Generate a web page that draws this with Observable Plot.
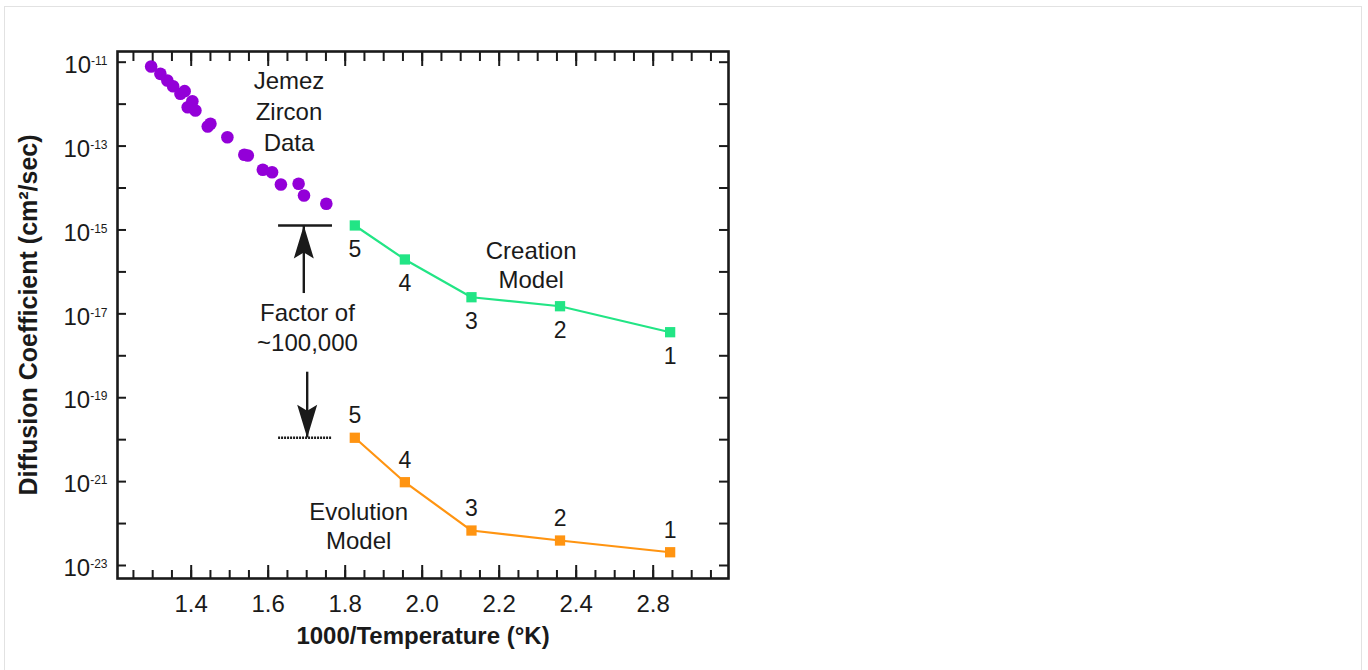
<!DOCTYPE html>
<html>
<head>
<meta charset="utf-8">
<script src="https://cdn.jsdelivr.net/npm/d3@7"></script>
<script src="https://cdn.jsdelivr.net/npm/@observablehq/plot@0.6"></script>
<style>
html, body { margin: 0; padding: 0; background: #fff; }
#wrap { position: relative; width: 1368px; height: 670px; overflow: hidden; }
#border { position: absolute; left: 4px; top: 6px; width: 1356px; height: 720px; border: 1px solid #e2e2e2; }
#chart { position: absolute; left: 0; top: 0; }
</style>
</head>
<body>
<div id="wrap"><div id="border"></div><div id="chart"></div></div>
<script>
// ---------------- data ----------------
const zirconX = [1.296, 1.320, 1.338, 1.353, 1.372, 1.383, 1.403, 1.391, 1.411, 1.443,
                 1.450, 1.494, 1.538, 1.547, 1.586, 1.610, 1.633, 1.679, 1.693, 1.751];
const zirconD = [7.89e-12, 5.28e-12, 3.66e-12, 2.68e-12, 1.77e-12, 2.04e-12, 1.17e-12, 8.45e-13, 7.05e-13, 2.93e-13,
                 3.40e-13, 1.63e-13, 6.19e-14, 5.96e-14, 2.72e-14, 2.38e-14, 1.21e-14, 1.26e-14, 6.64e-15, 4.21e-15];

const modelX = [1.825, 1.955, 2.128, 2.358, 2.644];
const stageLabels = ["5", "4", "3", "2", "1"];
const creationD = [1.28e-15, 1.98e-16, 2.49e-17, 1.52e-17, 3.65e-18];
const evolutionD = [1.11e-20, 9.68e-22, 6.82e-23, 3.94e-23, 2.07e-23];

const xLabelTicks = [1.4, 1.6, 1.8, 2.0, 2.2, 2.4, 2.6];
const xTickLabels = ["1.4", "1.6", "1.8", "2.0", "2.2", "2.4", "2.8"];
const xMinorTicks = d3.range(125, 280, 5).map(v => v / 100);
const yDecadeTicks = [1e-23, 1e-22, 1e-21, 1e-20, 1e-19, 1e-18, 1e-17, 1e-16, 1e-15, 1e-14, 1e-13, 1e-12, 1e-11];
const yLabelTicks = [1e-23, 1e-21, 1e-19, 1e-17, 1e-15, 1e-13, 1e-11];

const xTitle = "1000/Temperature (°K)";
const yTitle = "Diffusion Coefficient (cm²/sec)";

const notes = [
  {text: "Creation\nModel", x: 2.283, y: 6.5e-16},
  {text: "Evolution\nModel", x: 1.835, y: 3.9e-22},
  {text: "Factor of\n~100,000", x: 1.702, y: 2.08e-17}
];
const zirconNote = [{text: "Jemez\nZircon\nData", x: 1.654, y: 7.76e-12}];

const factorBarTop = [{x1: 1.627, x2: 1.767, y: creationD[0]}];
const factorBarBottom = [{x1: 1.627, x2: 1.767, y: evolutionD[0]}];
const arrowShafts = [
  {x: 1.6925, y1: creationD[0], y2: 3.05e-17},
  {x: 1.7013, y1: 4.06e-19, y2: evolutionD[0]}
];
const arrowHeads = [
  {x: 1.6925, y: creationD[0], rotate: 0},
  {x: 1.7013, y: evolutionD[0], rotate: 180}
];

// ---------------- tables ----------------
const zircon = zirconX.map((x, i) => ({x, y: zirconD[i]}));
const creation = modelX.map((x, i) => ({x, y: creationD[i], label: stageLabels[i]}));
const evolution = modelX.map((x, i) => ({x, y: evolutionD[i], label: stageLabels[i]}));

// ---------------- styles ----------------
const purple = "#9300d8";
const green = "#22e585";
const orange = "#ff9411";
const ink = "#1a1a1a";
const W = 1368, H = 670, mT = 51, mL = 117, mR = 640, mB = 92;
const innerH = H - mT - mB, innerW = W - mL - mR;

const headSymbol = {
  draw(ctx) {
    ctx.moveTo(0, 0);
    ctx.lineTo(10, 33);
    ctx.lineTo(0, 27);
    ctx.lineTo(-10, 33);
    ctx.closePath();
  }
};

const plot = Plot.plot({
  width: W,
  height: H,
  marginTop: mT,
  marginLeft: mL,
  marginRight: mR,
  marginBottom: mB,
  style: {fontFamily: "'Liberation Sans', Arial, sans-serif", color: ink, background: "transparent"},
  x: {type: "linear", domain: [1.2086, 2.7956], label: null},
  y: {type: "log", domain: [Math.pow(10, -23.31), Math.pow(10, -10.745)], label: null},
  marks: [
    // inward ticks
    Plot.tickX(xMinorTicks, {x: d => d, insetTop: innerH - 8, stroke: ink, strokeWidth: 2}),
    Plot.tickX(xMinorTicks, {x: d => d, insetBottom: innerH - 10, stroke: ink, strokeWidth: 2}),
    Plot.tickX(xLabelTicks, {x: d => d, insetTop: innerH - 13, stroke: ink, strokeWidth: 2}),
    Plot.tickX(xLabelTicks, {x: d => d, insetBottom: innerH - 15, stroke: ink, strokeWidth: 2}),
    Plot.tickY(yDecadeTicks, {y: d => d, insetRight: innerW - 9, stroke: ink, strokeWidth: 2}),
    Plot.tickY(yDecadeTicks, {y: d => d, insetLeft: innerW - 9, stroke: ink, strokeWidth: 2}),
    Plot.frame({stroke: ink, strokeWidth: 2.6}),
    Plot.axisX({
      ticks: xLabelTicks,
      tickFormat: d => xTickLabels[xLabelTicks.indexOf(d)],
      tickSize: 0, tickPadding: 16, fontSize: 24, label: null
    }),
    Plot.axisY({
      ticks: yLabelTicks,
      tickFormat: d => "10^" + Math.round(Math.log10(d)),
      tickSize: 0, tickPadding: 10, fontSize: 24, dy: 3, label: null
    }),
    Plot.text([yTitle], {text: d => d, frameAnchor: "left", textAnchor: "middle", lineAnchor: "middle",
      rotate: -90, dx: -89, fontSize: 25, fontWeight: "bold", fill: ink}),
    Plot.text([xTitle], {text: d => d, frameAnchor: "bottom", textAnchor: "middle", dy: 48, lineAnchor: "top",
      fontSize: 24, fontWeight: "bold", fill: ink}),

    // factor annotation
    Plot.ruleY(factorBarTop, {y: "y", x1: "x1", x2: "x2", stroke: ink, strokeWidth: 2.6}),
    Plot.ruleY(factorBarBottom, {y: "y", x1: "x1", x2: "x2", stroke: ink, strokeWidth: 2.6, strokeDasharray: "2 1"}),
    Plot.ruleX(arrowShafts, {x: "x", y1: "y1", y2: "y2", stroke: ink, strokeWidth: 2.4}),
    Plot.dot(arrowHeads, {x: "x", y: "y", rotate: "rotate", symbol: headSymbol, r: 10, fill: ink, stroke: "none"}),

    // data
    Plot.dot(zircon, {x: "x", y: "y", r: 6.3, fill: purple, stroke: "none"}),
    Plot.line(creation, {x: "x", y: "y", stroke: green, strokeWidth: 2.2}),
    Plot.dot(creation, {x: "x", y: "y", symbol: "square", r: 5.8, fill: green, stroke: "none"}),
    Plot.line(evolution, {x: "x", y: "y", stroke: orange, strokeWidth: 2.2}),
    Plot.dot(evolution, {x: "x", y: "y", symbol: "square", r: 5.8, fill: orange, stroke: "none"}),

    // labels
    Plot.text(creation, {x: "x", y: "y", text: "label", dy: 24, fontSize: 23, fill: ink}),
    Plot.text(evolution, {x: "x", y: "y", text: "label", dy: -22, fontSize: 23, fill: ink}),
    Plot.text(notes, {x: "x", y: "y", text: "text", lineAnchor: "top", lineHeight: 1.22, fontSize: 24, fill: ink}),
    Plot.text(zirconNote, {x: "x", y: "y", text: "text", lineAnchor: "top", lineHeight: 1.3, fontSize: 24, fill: ink})
  ]
});

// superscript exponents on the y tick labels
d3.select(plot).selectAll('g[aria-label="y-axis tick label"] text').each(function () {
  const t = this.textContent;
  const exp = t.split("^")[1];
  const sel = d3.select(this);
  sel.text("10");
  sel.append("tspan").attr("dy", -8).attr("font-size", 12).text(exp);
});

document.getElementById("chart").appendChild(plot);
</script>
</body>
</html>
